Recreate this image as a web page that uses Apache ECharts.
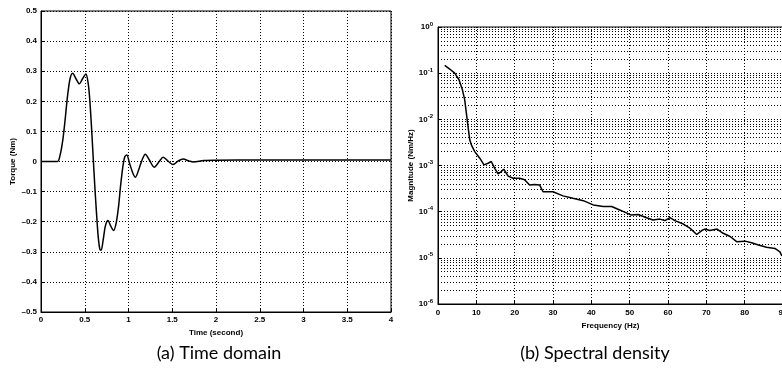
<!DOCTYPE html>
<html>
<head>
<meta charset="utf-8">
<script src="https://cdn.jsdelivr.net/npm/echarts@6/dist/echarts.min.js"></script>
<style>
  html, body { margin: 0; padding: 0; background: #fff; }
  #chart { width: 782px; height: 376px; }
</style>
</head>
<body>
<div id="chart"></div>
<script>
// (a) torque response in the time domain
const timeSec = [0, 0.1, 0.189, 0.219, 0.249, 0.275, 0.302, 0.332, 0.362, 0.4, 0.438, 0.475, 0.513,
  0.54, 0.558, 0.577, 0.596, 0.615, 0.634, 0.653, 0.672, 0.687, 0.709, 0.736, 0.766, 0.796, 0.83,
  0.86, 0.887, 0.909, 0.936, 0.958, 0.981, 1.011, 1.049, 1.079, 1.117, 1.155, 1.192, 1.238, 1.294,
  1.351, 1.396, 1.457, 1.509, 1.57, 1.623, 1.69, 1.74, 1.86, 2.0, 2.5, 3.0, 3.5, 4.0];
const torqueNm = [0, 0, 0, 0.022, 0.071, 0.137, 0.214, 0.275, 0.293, 0.275, 0.258, 0.275, 0.291,
  0.258, 0.203, 0.115, 0.016, -0.082, -0.17, -0.247, -0.291, -0.295, -0.264, -0.214, -0.196, -0.214, -0.229,
  -0.203, -0.148, -0.082, -0.016, 0.016, 0.022, -0.005, -0.038, -0.052, -0.027, 0.005, 0.024, 0.005, -0.019,
  0, 0.014, 0, -0.01, 0.002, 0.008, 0.002, -0.002, 0.003, 0.004, 0.005, 0.005, 0.005, 0.005];

// (b) spectral density magnitude
const freqHz = [1.75, 3.05, 4.36, 5.48, 6.37, 6.97, 7.4, 7.83, 8.28, 8.7, 9.58, 10.9, 12.0, 13.06, 13.9,
  14.8, 15.67, 16.5, 17.15, 18.3, 19.6, 21.3, 22.6, 23.9, 25.2, 26.5, 27.4, 30, 32.6, 35.2, 37.9, 40.5,
  43.1, 45.3, 47.4, 50.3, 52.2, 54.4, 56.1, 57.9, 59.2, 60.5, 61.8, 64, 65.7, 67.5, 68.8, 69.6, 70.9,
  72.8, 74.4, 76.2, 77.9, 80.1, 81.8, 83.6, 85.7, 87.9, 89.2, 89.7];
const magnitude = [0.147, 0.123, 0.10, 0.072, 0.0436, 0.0265, 0.0136, 0.007, 0.0036, 0.0028, 0.002,
  0.00144, 0.00103, 0.00112, 0.00122, 0.00087, 6.6e-4, 7.4e-4, 8.3e-4, 5.9e-4, 5.3e-4, 5.3e-4, 4.9e-4,
  3.8e-4, 3.9e-4, 3.8e-4, 2.7e-4, 2.7e-4, 2.2e-4, 1.95e-4, 1.73e-4, 1.4e-4, 1.29e-4, 1.29e-4, 1.09e-4,
  8.5e-5, 8.7e-5, 7.4e-5, 6.6e-5, 6.9e-5, 6.4e-5, 7.4e-5, 6.4e-5, 5.4e-5, 4.4e-5, 3.2e-5, 3.9e-5, 4.2e-5,
  3.9e-5, 4.2e-5, 3.4e-5, 2.9e-5, 2.24e-5, 2.3e-5, 2.13e-5, 1.9e-5, 1.7e-5, 1.6e-5, 1.35e-5, 1.1e-5];

// minor log grid values (2..9 in each decade)
const logMinorGrid = [];
for (let k = -6; k < 0; k++) {
  for (let m = 2; m <= 9; m++) logMinorGrid.push(+(m * Math.pow(10, k)).toPrecision(3));
}

const dotted = { color: '#000', width: 1, type: [1, 2] };
const tickFont = { color: '#000', fontSize: 8, fontWeight: 'bold', fontFamily: 'Liberation Sans, Arial, sans-serif' };
const nameFont = { color: '#000', fontSize: 8, fontWeight: 'bold', fontFamily: 'Liberation Sans, Arial, sans-serif' };
const titleFont = { color: '#000', fontSize: 18, fontWeight: 'normal', fontFamily: 'Lato, sans-serif' };

const chart = echarts.init(document.getElementById('chart'), null, { renderer: 'canvas' });
chart.setOption({
  animation: false,
  backgroundColor: '#fff',
  title: [
    { text: '(a) Time domain', left: 214, top: 339, textAlign: 'center', textStyle: titleFont },
    { text: '(b) Spectral density', left: 590, top: 339, textAlign: 'center', textStyle: titleFont }
  ],
  grid: [
    { left: 41, top: 11, width: 350, height: 301, outerBoundsMode: 'none', containLabel: false,
      show: true, borderColor: '#000', borderWidth: 1, backgroundColor: 'transparent' },
    { left: 438, top: 27, width: 345, height: 277, outerBoundsMode: 'none', containLabel: false,
      show: true, borderColor: '#000', borderWidth: 1, backgroundColor: 'transparent' }
  ],
  xAxis: [
    {
      gridIndex: 0, type: 'value', min: 0, max: 4, interval: 0.5,
      name: 'Time (second)', nameLocation: 'middle', nameGap: 8, nameTextStyle: nameFont,
      axisLine: { show: true, onZero: false, lineStyle: { color: '#000' } },
      axisTick: { inside: true, length: 3, lineStyle: { color: '#000' } },
      axisLabel: Object.assign({ margin: 4 }, tickFont),
      splitLine: { show: true, lineStyle: dotted }
    },
    {
      gridIndex: 1, type: 'value', min: 0, max: 90, interval: 10,
      name: 'Frequency (Hz)', nameLocation: 'middle', nameGap: 14, nameTextStyle: nameFont,
      axisLine: { show: true, onZero: false, lineStyle: { color: '#000' } },
      axisTick: { inside: true, length: 3, lineStyle: { color: '#000' } },
      axisLabel: Object.assign({ margin: 5, showMaxLabel: true }, tickFont),
      splitLine: { show: true, lineStyle: dotted }
    }
  ],
  yAxis: [
    {
      gridIndex: 0, type: 'value', min: -0.5, max: 0.5, interval: 0.1,
      name: 'Torque (Nm)', nameLocation: 'middle', nameGap: 24, nameTextStyle: nameFont,
      axisLine: { show: true, onZero: false, lineStyle: { color: '#000' } },
      axisTick: { inside: true, length: 3, lineStyle: { color: '#000' } },
      axisLabel: Object.assign({
        margin: 4,
        formatter: v => {
          const r = Math.round(v * 10) / 10;
          return r < 0 ? '\u2013' + Math.abs(r) : String(r);
        }
      }, tickFont),
      splitLine: { show: true, lineStyle: dotted }
    },
    {
      gridIndex: 1, type: 'log', logBase: 10, min: 1e-6, max: 1,
      name: 'Magnitude (Nm/Hz)', nameLocation: 'middle', nameGap: 22, nameTextStyle: nameFont,
      axisLine: { show: true, onZero: false, lineStyle: { color: '#000' } },
      axisTick: { inside: true, length: 3, lineStyle: { color: '#000' } },
      axisLabel: {
        margin: 5,
        formatter: v => '{b|10}{s|' + Math.round(Math.log10(v)) + '}',
        rich: {
          b: { color: '#000', fontSize: 8, fontWeight: 'bold', fontFamily: 'Liberation Sans, Arial, sans-serif' },
          s: { color: '#000', fontSize: 6, fontWeight: 'bold', fontFamily: 'Liberation Sans, Arial, sans-serif', padding: [0, 0, 6, 0] }
        }
      },
      splitLine: { show: true, lineStyle: dotted }
    }
  ],
  series: [
    {
      type: 'line', xAxisIndex: 0, yAxisIndex: 0,
      data: timeSec.map((t, i) => [t, torqueNm[i]]),
      smooth: 0.3, showSymbol: false,
      lineStyle: { color: '#000', width: 1.5 }
    },
    {
      type: 'line', xAxisIndex: 1, yAxisIndex: 1,
      data: freqHz.map((f, i) => [f, magnitude[i]]),
      showSymbol: false,
      lineStyle: { color: '#000', width: 1.5 },
      markLine: {
        silent: true, symbol: 'none', animation: false, precision: 12,
        label: { show: false },
        lineStyle: dotted,
        data: logMinorGrid.map(v => ({ yAxis: v }))
      }
    }
  ]
});
</script>
</body>
</html>
